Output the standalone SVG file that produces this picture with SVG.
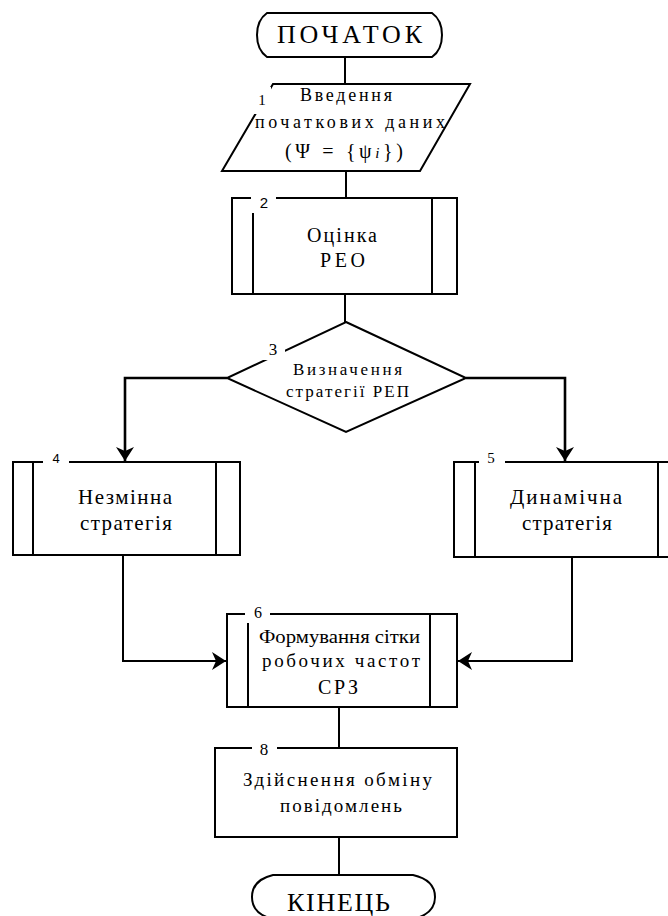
<svg xmlns="http://www.w3.org/2000/svg" width="668" height="916" viewBox="0 0 668 916">
<style>
.sh{fill:#fff;stroke:#000;stroke-width:2}
.ln{fill:none;stroke:#000;stroke-width:2}
.cn{fill:none;stroke:#000;stroke-width:2}
.ca{fill:none;stroke:#000;stroke-width:2.6}
text{fill:#000;text-anchor:middle;font-family:"Liberation Serif","Times New Roman",serif}
.num{font-family:"Liberation Sans",Arial,sans-serif}
.bg{fill:#fff;stroke:none}
</style>
<defs>
<marker id="ah" viewBox="0 0 14 18" refX="14" refY="9" markerWidth="14" markerHeight="18" orient="auto" markerUnits="userSpaceOnUse">
<path d="M0,0 L14,9 L0,18 L4,9 Z" fill="#000"/>
</marker>
</defs>
<rect width="668" height="916" fill="#fff"/>
<g id="connectors">
<line class="cn" x1="345" y1="57" x2="345" y2="84"/>
<line class="cn" x1="346" y1="171" x2="346" y2="198"/>
<line class="cn" x1="345" y1="294" x2="345" y2="322"/>
<polyline class="ca" points="227,378 125,378 125,461" marker-end="url(#ah)"/>
<polyline class="ca" points="466,378 565,378 565,461" marker-end="url(#ah)"/>
<polyline class="cn" points="123,555 123,661 226,661" marker-end="url(#ah)"/>
<polyline class="cn" points="572,557 572,661 458,661" marker-end="url(#ah)"/>
<line class="cn" x1="339" y1="707" x2="339" y2="748"/>
<line class="cn" x1="339" y1="837" x2="339" y2="875"/>
</g>
<g id="start">
<path class="sh" d="M267,13 H432 Q442,20 442,35 Q442,50 432,57 H267 Q257,50 257,35 Q257,20 267,13 Z"/>
<text x="349.5" y="43" font-size="26" textLength="145" lengthAdjust="spacing">ПОЧАТОК</text>
</g>
<g id="n1">
<path class="sh" d="M273,84 H470 L420,171 H222 Z"/>
<rect class="bg" x="252" y="87" width="19" height="27"/>
<text x="262" y="105" font-size="15">1</text>
<text x="346" y="101" font-size="18" textLength="92" lengthAdjust="spacing">Введення</text>
<text x="350" y="128" font-size="18" textLength="190" lengthAdjust="spacing">початкових даних</text>
<text x="344" y="158" font-size="20" textLength="118" lengthAdjust="spacing">(Ψ = {ψ<tspan font-style="italic" font-size="15">i</tspan>})</text>
</g>
<g id="n2">
<rect class="sh" x="232" y="198" width="225" height="96"/>
<line class="ln" x1="253" y1="213" x2="253" y2="294"/>
<line class="ln" x1="432" y1="198" x2="432" y2="294"/>
<rect class="bg" x="251" y="195" width="25" height="18"/>
<text class="num" x="264" y="208" font-size="15">2</text>
<text x="342" y="242" font-size="20" textLength="70" lengthAdjust="spacing">Оцінка</text>
<text x="342.5" y="267" font-size="20" textLength="45" lengthAdjust="spacing">РЕО</text>
</g>
<g id="n3">
<polygon class="sh" points="346,322 466,378 346,432 227,378"/>
<rect class="bg" x="263" y="341" width="22" height="19"/>
<text x="273" y="355" font-size="17">3</text>
<text x="347.5" y="375" font-size="17" textLength="109" lengthAdjust="spacing">Визначення</text>
<text x="347.5" y="397" font-size="17" textLength="123" lengthAdjust="spacing">стратегії РЕП</text>
</g>
<g id="n4">
<rect class="sh" x="13" y="462" width="227" height="93"/>
<line class="ln" x1="33" y1="462" x2="33" y2="555"/>
<line class="ln" x1="216" y1="462" x2="216" y2="555"/>
<rect class="bg" x="43" y="454" width="26" height="14"/>
<text class="num" x="56" y="463" font-size="13">4</text>
<text x="125" y="504" font-size="21" textLength="94" lengthAdjust="spacing">Незмінна</text>
<text x="126" y="530" font-size="21" textLength="92" lengthAdjust="spacing">стратегія</text>
</g>
<g id="n5">
<rect class="sh" x="454" y="462" width="225" height="95"/>
<line class="ln" x1="475" y1="462" x2="475" y2="557"/>
<line class="ln" x1="658" y1="462" x2="658" y2="557"/>
<rect class="bg" x="479" y="452" width="26" height="15"/>
<text x="491" y="463" font-size="15">5</text>
<text x="566" y="504" font-size="21" textLength="112" lengthAdjust="spacing">Динамічна</text>
<text x="567" y="530" font-size="21" textLength="90" lengthAdjust="spacing">стратегія</text>
</g>
<g id="n6">
<rect class="sh" x="227" y="614" width="230" height="93"/>
<line class="ln" x1="248" y1="623" x2="248" y2="707"/>
<line class="ln" x1="430" y1="614" x2="430" y2="707"/>
<rect class="bg" x="245" y="605" width="25" height="18"/>
<text x="258" y="618" font-size="16">6</text>
<text x="339.5" y="643" font-size="19" textLength="161" lengthAdjust="spacingAndGlyphs">Формування сітки</text>
<text x="341" y="667" font-size="19" textLength="158" lengthAdjust="spacing">робочих частот</text>
<text x="338" y="694" font-size="20" textLength="40" lengthAdjust="spacing">СРЗ</text>
</g>
<g id="n8">
<rect class="sh" x="215" y="748" width="242" height="89"/>
<rect class="bg" x="252" y="739" width="25" height="16"/>
<text x="264" y="755" font-size="17">8</text>
<text x="337.5" y="786" font-size="19" textLength="189" lengthAdjust="spacing">Здійснення обміну</text>
<text x="341" y="812" font-size="19" textLength="122" lengthAdjust="spacing">повідомлень</text>
</g>
<g id="end">
<path class="sh" d="M273,875 H413 Q435,880 435,897 Q435,914 413,919 H273 Q252,914 252,897 Q252,880 273,875 Z"/>
<text x="338.5" y="911" font-size="26" textLength="103" lengthAdjust="spacing">КІНЕЦЬ</text>
</g>
</svg>
